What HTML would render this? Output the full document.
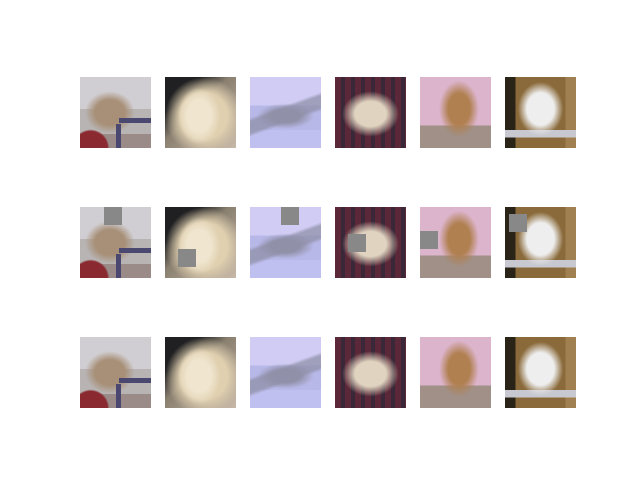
<!DOCTYPE html>
<html><head><meta charset="utf-8"><style>
html,body{margin:0;padding:0;background:#fff;}
#fig{position:relative;width:640px;height:480px;overflow:hidden;background:#fff;}
.im{position:absolute;width:71px;height:71px;overflow:hidden;}
.sq{position:absolute;width:18px;height:18px;background:#888888;}
.i0{background:
 linear-gradient(90deg,transparent 0 55%,#4a4870 55% 100%) 0 62%/100% 5px no-repeat,
 linear-gradient(90deg,#4a4870,#4a4870) 55% 100%/5px 34% no-repeat,
 radial-gradient(ellipse 35% 30% at 42% 50%,#a89078 0 60%,transparent 100%),
 radial-gradient(circle at 15% 100%,#8a2a30 0 18%,transparent 20%),
 linear-gradient(180deg,#d0ced2 0 45%,#b8b4b4 45% 80%,#9a8a88 80%);}
.i1{background:
 radial-gradient(ellipse 30% 40% at 48% 55%,#f0e6d0 0 55%,transparent 100%),
 radial-gradient(ellipse 55% 55% at 55% 55%,#e0d0b0 0 60%,transparent 100%),
 linear-gradient(135deg,#202022 0 25%,#8a8070 45%,#c8b8a8 100%);}
.i2{background:
 radial-gradient(ellipse 40% 18% at 50% 55%,#9090a8 0 50%,transparent 100%),
 linear-gradient(160deg,transparent 0 42%,rgba(140,140,164,.7) 46% 58%,transparent 62%),
 linear-gradient(180deg,#d0ccf4 0 40%,#b8b8e8 40% 75%,#c0c0f0 75%);}
.i3{background:
 radial-gradient(ellipse 40% 32% at 50% 52%,#e0d4c0 0 55%,transparent 100%),
 repeating-linear-gradient(90deg,#5a2838 0 6px,#3a2838 6px 10px),
 #502838;}
.i4{background:
 radial-gradient(ellipse 28% 40% at 55% 45%,#b08050 0 55%,transparent 100%),
 linear-gradient(180deg,#dcb4cc 0 68%,#a09088 68%);}
.i5{background:
 radial-gradient(ellipse 32% 38% at 50% 45%,#eeeeee 0 60%,transparent 100%),
 linear-gradient(180deg,transparent 0 75%,#c8c8d0 75% 85%,transparent 85%),
 linear-gradient(90deg,#2a2418 0 15%,#8a6a3a 15% 85%,#a08050 85%);}
</style></head><body>
<div id="fig"></div>
<script>
var xs=[80,165,250,335,420,505];
var ys=[77,207,337];
var squares=[[24,0],[13,42],[31,0],[13,27],[0,24],[4,7]];
var fig=document.getElementById('fig');
for(var r=0;r<3;r++){for(var c=0;c<6;c++){
 var d=document.createElement('div');
 d.className='im i'+c;
 d.style.left=xs[c]+'px';d.style.top=ys[r]+'px';
 
 
 if(r==1){var s=document.createElement('div');s.className='sq';
  s.style.left=squares[c][0]+'px';s.style.top=squares[c][1]+'px';
  
  
  d.appendChild(s);}
 fig.appendChild(d);
}}
</script>
</body></html>
